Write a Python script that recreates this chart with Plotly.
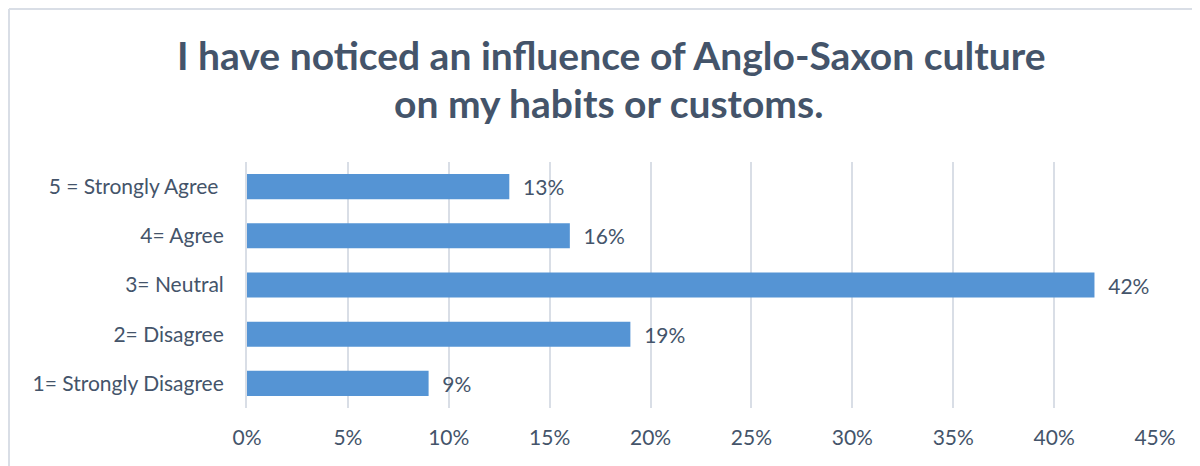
import plotly.graph_objects as go

categories = ["1= Strongly Disagree", "2= Disagree", "3= Neutral", "4= Agree", "5 = Strongly Agree\u00a0"]
shares = [0.09, 0.19, 0.42, 0.16, 0.13]
tick_vals = [0, 0.05, 0.10, 0.15, 0.20, 0.25, 0.30, 0.35, 0.40, 0.45]
tick_text = ["0%", "5%", "10%", "15%", "20%", "25%", "30%", "35%", "40%", "45%"]

TXT = "#44546A"
GRID = "#D9DEE6"

# page pixel -> paper (plot area spans x 247..1155, y 162..408 on the page;
# the page body adds an 8px offset, hence the 1192x458 figure)
px = lambda p: (p - 247) / 908
py = lambda p: (408 - p) / 246

fig = go.Figure()

fig.add_trace(
    go.Bar(
        x=shares,
        y=categories,
        orientation="h",
        marker=dict(color="#5594D4", line=dict(width=0)),
        text=[f"\u00a0\u00a0{v:.0%}" for v in shares],
        textposition="outside",
        textfont=dict(family="Lato", size=21, color=TXT),
        cliponaxis=False,
        showlegend=False,
    )
)

fig.update_layout(
    width=1192,
    height=458,
    margin=dict(l=239, r=45, t=154, b=58),
    paper_bgcolor="white",
    plot_bgcolor="white",
    bargap=0.49,
    font=dict(family="Lato", size=21, color=TXT),
    xaxis=dict(
        range=[0, 0.45],
        tickvals=tick_vals,
        ticktext=tick_text,
        showgrid=True,
        gridcolor=GRID,
        gridwidth=2,
        zeroline=False,
        showline=False,
        ticklabelstandoff=15,
        tickfont=dict(family="Lato", size=21, color=TXT),
    ),
    yaxis=dict(
        showgrid=False,
        showline=True,
        linecolor=GRID,
        linewidth=2,
        ticks="",
        ticklabelstandoff=17,
        tickfont=dict(family="Lato", size=21, color=TXT),
    ),
    annotations=[
        dict(text="<b>I have noticed an influence of Anglo-Saxon culture</b>",
             x=px(611), xref="paper", xanchor="center",
             y=py(55), yref="paper", yanchor="middle",
             showarrow=False, font=dict(family="Lato", size=39, color=TXT)),
        dict(text="<b>on my habits or customs.</b>",
             x=px(608), xref="paper", xanchor="center",
             y=py(103), yref="paper", yanchor="middle",
             showarrow=False, font=dict(family="Lato", size=39, color=TXT)),
    ],
    shapes=[
        dict(type="line", xref="paper", yref="paper",
             x0=px(9), x1=px(1200), y0=py(9), y1=py(9),
             line=dict(color=GRID, width=2)),
        dict(type="line", xref="paper", yref="paper",
             x0=px(9), x1=px(9), y0=py(9), y1=py(466),
             line=dict(color=GRID, width=2)),
    ],
)

fig.write_html("out.html")
